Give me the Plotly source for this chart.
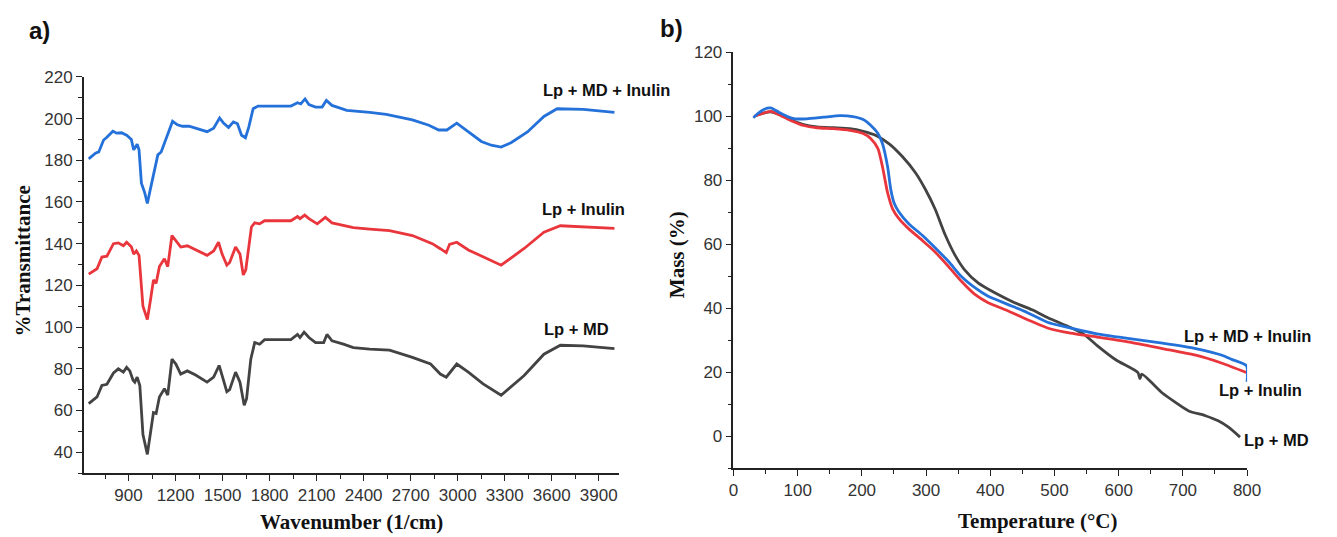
import plotly.graph_objects as go

# ---------------- Panel a: FTIR ----------------
wn_md = [646, 699, 730, 762, 804, 835, 867, 888, 908, 929, 940, 955, 972, 992, 1020, 1038, 1059, 1076, 1097,
         1129, 1150, 1177, 1202, 1233, 1275, 1328, 1401, 1443, 1478, 1500, 1527, 1545, 1583, 1611, 1638, 1653,
         1680, 1705, 1736, 1768, 1936, 1978, 1994, 2020, 2051, 2093, 2145, 2166, 2198, 2271, 2334, 2439, 2565,
         2711, 2827, 2889, 2927, 2994, 3068, 3162, 3277, 3424, 3550, 3655, 3801, 4000]
tr_md = [63.3, 66.5, 72, 72.6, 78, 80, 78.4, 80.7, 79, 74.5, 73.6, 76, 72, 48.5, 39, 48.5, 59, 58.6, 66.5,
         70.5, 67.4, 84.6, 82.3, 77.5, 79, 77, 73.6, 76, 81.6, 76, 69, 70, 78.4, 73.6, 62.5, 65.7,
         84.6, 92.6, 91.8, 94, 94, 96.5, 95, 97.6, 95, 92.6, 92.6, 96.5, 93.4, 91.8, 90.2, 89.4, 89,
         85.5, 82.3, 77.5, 76, 82.3, 78.4, 72.8, 67.3, 76.8, 87, 91.3, 91, 89.7]

wn_in = [646, 699, 730, 762, 804, 835, 867, 888, 918, 933, 950, 967, 992, 1020, 1040, 1059, 1076, 1097, 1129,
         1150, 1177, 1202, 1233, 1275, 1328, 1401, 1443, 1474, 1497, 1527, 1545, 1583, 1611, 1632, 1648, 1684,
         1705, 1736, 1768, 1936, 1978, 1994, 2024, 2051, 2104, 2156, 2198, 2271, 2334, 2439, 2565, 2711, 2838,
         2889, 2927, 2948, 2994, 3068, 3162, 3277, 3424, 3550, 3655, 3801, 4000]
tr_in = [125.4, 128, 133.6, 134, 140, 140.4, 139, 140.7, 138.5, 135, 136.5, 134.4, 110, 103.6, 113, 122.6, 121,
         129, 132.8, 129, 143.9, 141.6, 138.4, 139, 137, 134.4, 136.5, 140.7, 135, 129.7, 131, 138.4, 135,
         125, 127.5, 148, 150, 149.5, 151, 151, 153, 152, 153.7, 152, 149.5, 152.6, 150, 148.7, 147.7, 147,
         146.3, 143.9, 140, 137.6, 135.7, 139.7, 140.7, 137, 133.7, 129.7, 137.7, 145.5, 148.6, 148, 147.3]

wn_all = [646, 689, 710, 741, 762, 800, 825, 855, 888, 918, 933, 955, 967, 982, 1003, 1020, 1040, 1066, 1087,
          1108, 1139, 1181, 1212, 1244, 1286, 1349, 1401, 1443, 1481, 1506, 1538, 1569, 1595, 1621, 1646,
          1667, 1695, 1726, 1936, 1978, 1999, 2026, 2051, 2093, 2135, 2162, 2198, 2250, 2292, 2439, 2544,
          2711, 2816, 2879, 2931, 2994, 3068, 3151, 3214, 3277, 3340, 3445, 3550, 3634, 3801, 4000]
tr_all = [180.7, 183.4, 184, 189.7, 191, 193.9, 193, 193.2, 192, 190, 185, 187.7, 185, 169, 164.5, 159.3,
          166.4, 176, 182.6, 184, 190.5, 198.7, 197, 196.3, 196.3, 195, 193.7, 195.4, 200.3, 197.8, 195.7,
          198.4, 197.5, 192, 190.8, 195.9, 204.7, 206, 206, 207.6, 207, 209.4, 206.7, 205.5, 205.5, 208.7,
          206.3, 205, 203.9, 203, 202, 199.4, 196.8, 194.5, 194.5, 197.8, 193.8, 189, 187.2, 186.3, 188.4,
          193.6, 201, 204.7, 204.4, 203]

# ---------------- Panel b: TGA ----------------
t_all = [31, 37, 48, 58, 71, 84, 96, 114, 140, 166, 186, 202, 214, 225, 232, 240, 245, 250, 258, 273, 294,
         314, 335, 355, 376, 396, 427, 458, 489, 514, 566, 617, 668, 720, 761, 776, 799, 800]
m_all = [99.5, 100.7, 102.2, 102.6, 101.2, 99.9, 99.2, 99.2, 99.7, 100.2, 99.9, 99, 97.1, 94.6, 91.5, 84.3,
         77.1, 73, 70, 66.4, 62.8, 58.9, 54.6, 49.9, 46.4, 43.8, 41.2, 38.6, 35.6, 34.3, 32, 30.5, 29.1,
         27.4, 25.3, 24, 22, 17]

t_in = [32, 43, 58, 71, 89, 109, 130, 155, 181, 202, 214, 225, 232, 240, 248, 258, 273, 294, 314, 335, 355,
        376, 396, 427, 458, 494, 525, 566, 617, 668, 720, 761, 799]
m_in = [100, 100.7, 101.5, 100.5, 98.7, 97.1, 96.4, 96.1, 95.6, 94.6, 93, 89.9, 84.3, 76.1, 71, 67.9, 64.8,
        61.2, 57.6, 53, 48.4, 44.3, 41.8, 39.2, 36.4, 33.5, 32.2, 31, 29.4, 27.4, 25.3, 22.8, 19.9]

t_md = [35, 45, 58, 71, 89, 109, 130, 155, 181, 202, 222, 243, 263, 284, 299, 314, 330, 345, 360, 381, 407,
        437, 465, 494, 525, 545, 566, 596, 630, 633, 636, 668, 689, 709, 735, 755, 771, 789]
m_md = [100.3, 100.9, 101.4, 100.6, 98.9, 97.4, 96.7, 96.4, 96.1, 95.3, 94, 91.3, 87.4, 82.2, 77.1, 71,
        62.8, 56.6, 52, 47.9, 44.8, 41.8, 39.5, 36.6, 34, 32, 28.4, 23.8, 19.9, 18, 19.4, 13.5, 10.5, 7.9,
        6.4, 4.8, 2.8, -0.3]

names = ["Lp + MD", "Lp + Inulin", "Lp + MD + Inulin"]
colors = ["#434343", "#e8363c", "#2471d9"]

W, H = 1337, 537


def px(x):
    return x / W


def py(y):
    return 1 - y / H


fig = go.Figure()

for xs, ys, c, n in [(wn_md, tr_md, colors[0], names[0]),
                     (wn_in, tr_in, colors[1], names[1]),
                     (wn_all, tr_all, colors[2], names[2])]:
    fig.add_trace(go.Scatter(x=xs, y=ys, mode="lines", name=n, showlegend=False,
                             line=dict(color=c, width=2.8), xaxis="x", yaxis="y"))

for xs, ys, c, n in [(t_md, m_md, colors[0], names[0]),
                     (t_in, m_in, colors[1], names[1]),
                     (t_all, m_all, colors[2], names[2])]:
    fig.add_trace(go.Scatter(x=xs, y=ys, mode="lines", name=n, showlegend=False,
                             line=dict(color=c, width=2.8, shape="spline", smoothing=0.6),
                             xaxis="x2", yaxis="y2"))

tickfont = dict(family="Liberation Sans, Arial", size=17, color="#333333")
axis_common = dict(showline=True, linecolor="#222222", linewidth=1.6, ticks="outside", ticklen=6,
                   tickwidth=1.4, tickcolor="#222222", showgrid=False, zeroline=False, mirror=False,
                   tickfont=tickfont)

fig.update_layout(
    width=W, height=H,
    paper_bgcolor="white", plot_bgcolor="white",
    margin=dict(l=0, r=0, t=0, b=0),
    showlegend=False,
    xaxis=dict(domain=[px(80), px(623)], range=[615, 4030], tickvals=list(range(900, 4000, 300)),
               minor=dict(tickvals=list(range(750, 4050, 150)), ticks="outside", ticklen=4,
                          tickwidth=1.2, tickcolor="#222222"),
               anchor="y", **axis_common),
    yaxis=dict(domain=[py(472), py(69)], range=[30, 220], tickvals=list(range(40, 221, 20)),
               minor=dict(tickvals=list(range(30, 221, 10)), ticks="outside", ticklen=4,
                          tickwidth=1.2, tickcolor="#222222"),
               anchor="x", **axis_common),
    xaxis2=dict(domain=[px(739), px(1260)], range=[0, 800], tickvals=list(range(0, 801, 100)),
                minor=dict(tickvals=list(range(0, 801, 50)), ticks="outside", ticklen=4,
                           tickwidth=1.2, tickcolor="#222222"),
                anchor="y2", **axis_common),
    yaxis2=dict(domain=[py(467), py(44)], range=[-10, 120], tickvals=list(range(0, 121, 20)),
                minor=dict(tickvals=list(range(-10, 121, 10)), ticks="outside", ticklen=4,
                           tickwidth=1.2, tickcolor="#222222"),
                anchor="x2", **axis_common),
)

title_font = dict(family="Liberation Serif, Times New Roman", size=21, color="#111111")
lab_font = dict(family="Liberation Sans, Arial", size=16.5, color="#111111")
panel_font = dict(family="Liberation Sans, Arial", size=24, color="#111111")

annos = [
    ("<b>a)</b>", 35, 22, panel_font, 0),
    ("<b>b)</b>", 676, 20, panel_font, 0),
    ("<b>%Transmittance</b>", 18, 256, title_font, -90),
    ("<b>Wavenumber (1/cm)</b>", 352, 522, title_font, 0),
    ("<b>Mass (%)</b>", 681, 250, title_font, -90),
    ("<b>Temperature (°C)</b>", 1047, 521, title_font, 0),
    ("<b>Lp + MD + Inulin</b>", 610, 82, lab_font, 0),
    ("<b>Lp + Inulin</b>", 587, 203, lab_font, 0),
    ("<b>Lp + MD</b>", 580, 325, lab_font, 0),
    ("<b>Lp + MD + Inulin</b>", 1260, 333, lab_font, 0),
    ("<b>Lp + Inulin</b>", 1274, 388, lab_font, 0),
    ("<b>Lp + MD</b>", 1290, 438, lab_font, 0),
]
for text, x, y, f, ang in annos:
    fig.add_annotation(text=text, x=px(x), y=py(y), xref="paper", yref="paper",
                       showarrow=False, font=f, textangle=ang, xanchor="center", yanchor="middle")

fig.write_html("out.html", config={"displayModeBar": False},
               post_script="document.body.style.margin='0';document.body.style.overflow='hidden';")
